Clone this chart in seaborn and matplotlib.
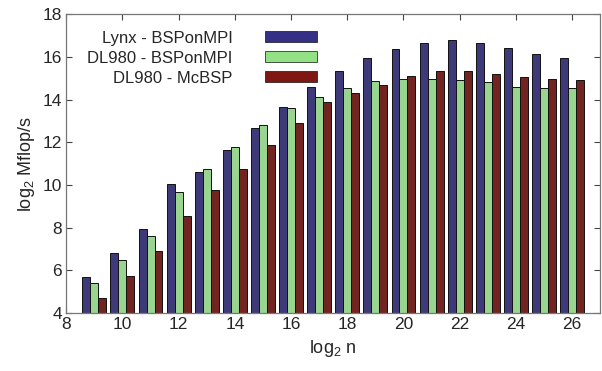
import numpy as np
import pandas as pd
import matplotlib
matplotlib.use('Agg')
import matplotlib.pyplot as plt
import seaborn as sns
from matplotlib.patches import Patch

# log2 n values
log2_n = list(range(9, 27))

# log2 Mflop/s
lynx_bsponmpi = [5.70, 6.82, 7.95, 10.04, 10.62, 11.65, 12.68, 13.67, 14.60,
                 15.34, 15.95, 16.37, 16.67, 16.78, 16.64, 16.39, 16.14, 15.95]
dl980_bsponmpi = [5.39, 6.50, 7.60, 9.65, 10.73, 11.79, 12.79, 13.60, 14.13,
                  14.56, 14.85, 14.97, 14.97, 14.93, 14.80, 14.58, 14.56, 14.55]
dl980_mcbsp = [4.69, 5.73, 6.89, 8.57, 9.77, 10.76, 11.87, 12.90, 13.88,
               14.31, 14.67, 15.10, 15.33, 15.33, 15.19, 15.06, 14.97, 14.93]

series_names = ['Lynx - BSPonMPI', 'DL980 - BSPonMPI', 'DL980 - McBSP']
colors = ['#352f85', '#92e184', '#7f1812']

df = pd.DataFrame({
    'n': log2_n * 3,
    'val': lynx_bsponmpi + dl980_bsponmpi + dl980_mcbsp,
    'series': [s for s in series_names for _ in log2_n],
})

sns.set_style('ticks')
plt.rcParams['font.family'] = ['Liberation Sans', 'DejaVu Sans']
plt.rcParams['mathtext.default'] = 'regular'

fig = plt.figure(figsize=(6.02, 3.71), dpi=100)
ax = fig.add_axes([0.11, 0.156, 0.887, 0.806])

sns.barplot(data=df, x='n', y='val', hue='series', hue_order=series_names,
            palette=colors, native_scale=True, width=0.85, gap=0,
            edgecolor='#111111', linewidth=0.7, ax=ax, legend=False)

ax.set_xlim(8, 27)
ax.set_ylim(4, 18)
ax.set_xticks(range(8, 27, 2))
ax.set_yticks(range(4, 19, 2))
ax.tick_params(direction='in', top=True, right=True, labelsize=12.5,
               length=4, width=0.8, color='#444444', pad=3)
for sp in ax.spines.values():
    sp.set_color('#777777')
    sp.set_linewidth(0.9)

ax.set_xlabel('log$_2$ n', fontsize=13)
ax.set_ylabel('log$_2$ Mflop/s', fontsize=13)

handles = [Patch(facecolor=c, edgecolor='#111111', linewidth=0.5) for c in colors]
leg = ax.legend(handles, series_names, loc='upper left', bbox_to_anchor=(0.039, 0.945),
                frameon=False, markerfirst=False, fontsize=12.0, handlelength=3.1,
                handleheight=0.65, labelspacing=0.3, handletextpad=1.95,
                borderpad=0, borderaxespad=0)
leg._legend_box.align = 'right'

fig.savefig('out.png', dpi=100)
